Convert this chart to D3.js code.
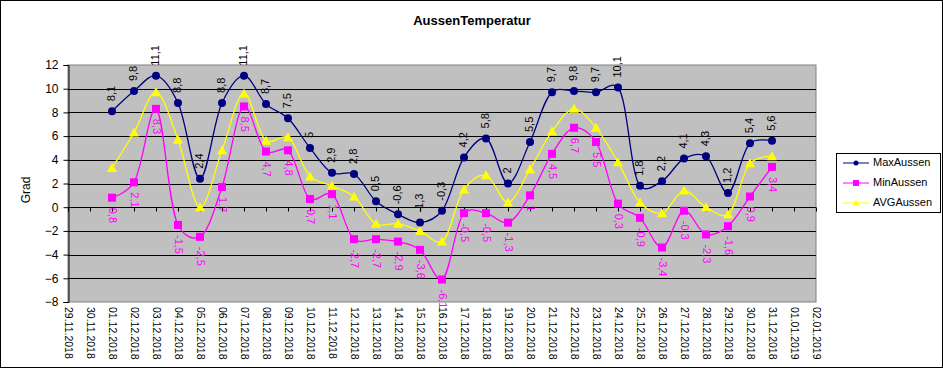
<!DOCTYPE html>
<html><head><meta charset="utf-8">
<script src="https://cdn.jsdelivr.net/npm/d3@7"></script>
<style>body{margin:0;background:#fff}svg{display:block;font-family:"Liberation Sans",Arial,sans-serif}</style>
</head><body><svg id="c" width="943" height="368"></svg>
<script>
const dates = ["29.11.2018","30.11.2018","01.12.2018","02.12.2018","03.12.2018","04.12.2018","05.12.2018","06.12.2018","07.12.2018","08.12.2018","09.12.2018","10.12.2018","11.12.2018","12.12.2018","13.12.2018","14.12.2018","15.12.2018","16.12.2018","17.12.2018","18.12.2018","19.12.2018","20.12.2018","21.12.2018","22.12.2018","23.12.2018","24.12.2018","25.12.2018","26.12.2018","27.12.2018","28.12.2018","29.12.2018","30.12.2018","31.12.2018","01.01.2019","02.01.2019"];
const dataDates = dates.slice(2, 33);
const maxAussen = [8.1,9.8,11.1,8.8,2.4,8.8,11.1,8.7,7.5,5,2.9,2.8,0.5,-0.6,-1.3,-0.3,4.2,5.8,2,5.5,9.7,9.8,9.7,10.1,1.8,2.2,4.1,4.3,1.2,5.4,5.6];
const minAussen = [0.8,2.1,8.3,-1.5,-2.5,1.7,8.5,4.7,4.8,0.7,1.1,-2.7,-2.7,-2.9,-3.6,-6.1,-0.5,-0.5,-1.3,1,4.5,6.7,5.5,0.3,-0.9,-3.4,-0.3,-2.3,-1.6,0.9,3.4];
const avgAussen = [3.3,6.3,9.7,5.7,0,4.8,9.6,5.6,5.9,2.6,1.8,0.9,-1.4,-1.4,-2.0,-2.9,1.5,2.7,0.4,3.2,6.4,8.3,6.7,3.8,0.4,-0.5,1.4,0,-0.6,3.7,4.3];
const yTicks = [-8,-6,-4,-2,0,2,4,6,8,10,12];
const seriesNames = ["MaxAussen","MinAussen","AVGAussen"];
const colors = ["#000080","#FF00FF","#FFFF00"];

const svg = d3.select("#c");
svg.append("rect").attr("x",0.5).attr("y",0.5).attr("width",942).attr("height",367).attr("fill","#fff").attr("stroke","#000");

const L=68, R=816, T=65, B=302;
const x = d3.scalePoint().domain(dates).range([L,R]);
const y = d3.scaleLinear().domain([-8,12]).range([B,T]);

svg.append("rect").attr("x",L).attr("y",T).attr("width",R-L).attr("height",B-T).attr("fill","#c0c0c0").attr("stroke","#808080");

// gridlines
svg.append("g").selectAll("line").data(yTicks.filter(d=>d>-8&&d<12)).join("line")
  .attr("x1",L).attr("x2",R).attr("y1",d=>Math.round(y(d))+0.5).attr("y2",d=>Math.round(y(d))+0.5).attr("stroke","#000");

// y axis
const ya = svg.append("g").attr("transform",`translate(${L+0.5},0)`)
  .call(d3.axisLeft(y).tickValues(yTicks).tickSize(5).tickFormat(d3.format("d")));
ya.select(".domain").attr("stroke","#000");
ya.selectAll("text").attr("font-size",12).attr("font-family","Liberation Sans, Arial").attr("fill","#000").attr("dx",-2);

// x axis ticks at zero
const xa = svg.append("g").attr("transform",`translate(0,${Math.round(y(0))+0.5})`)
  .call(d3.axisBottom(x).tickSize(4).tickFormat(""));
xa.select(".domain").remove();
xa.selectAll("line").attr("stroke","#000");

// x labels at bottom
svg.append("g").selectAll("text").data(dates).join("text")
  .attr("transform",d=>`translate(${x(d)},${B+5}) rotate(90)`)
  .attr("font-size",10.5).attr("dominant-baseline","middle").attr("text-anchor","start").text(d=>d);

// title
svg.append("text").attr("x",472).attr("y",25).attr("text-anchor","middle").attr("font-size",13).attr("font-weight","bold").text("AussenTemperatur");
svg.append("text").attr("transform","translate(30,190) rotate(-90)").attr("text-anchor","middle").attr("font-size",12).text("Grad");

const all = [maxAussen,minAussen,avgAussen];
const line = d3.line().x((d,i)=>x(dataDates[i])).y(d=>y(d)).curve(d3.curveCatmullRom.alpha(0.3));
const fmt = v => String(v).replace(".",",");

function marker(g, k, cx, cy){
  if(k===0) g.append("circle").attr("cx",cx).attr("cy",cy).attr("r",4).attr("fill",colors[0]);
  else if(k===1) g.append("rect").attr("x",cx-4).attr("y",cy-4).attr("width",8).attr("height",8).attr("fill",colors[1]);
  else g.append("path").attr("d",`M${cx},${cy-5}L${cx+5},${cy+4}L${cx-5},${cy+4}Z`).attr("fill",colors[2]);
}

[2,1,0].forEach(k=>{
  const g = svg.append("g");
  g.append("path").attr("d",line(all[k])).attr("fill","none").attr("stroke",colors[k]).attr("stroke-width",1.3);
  all[k].forEach((v,i)=>marker(g,k,x(dataDates[i]),y(v)));
});

// labels
maxAussen.forEach((v,i)=>{
  svg.append("text").attr("transform",`translate(${x(dataDates[i])},${y(v)-10}) rotate(-90)`)
    .attr("font-size",11).attr("dominant-baseline","middle").attr("text-anchor","start").attr("fill","#000").text(fmt(v));
});
minAussen.forEach((v,i)=>{
  svg.append("text").attr("transform",`translate(${x(dataDates[i])},${y(v)+10}) rotate(90)`)
    .attr("font-size",11).attr("dominant-baseline","middle").attr("text-anchor","start").attr("fill","#FF00FF").text(fmt(v));
});

// legend
const lg = svg.append("g");
lg.append("rect").attr("x",836.5).attr("y",153.5).attr("width",104).attr("height",59).attr("fill","#fff").attr("stroke","#000");
seriesNames.forEach((n,k)=>{
  const yy = 163+k*20;
  lg.append("line").attr("x1",843).attr("x2",869).attr("y1",yy).attr("y2",yy).attr("stroke",colors[k]);
  if(k===0) lg.append("circle").attr("cx",856).attr("cy",yy).attr("r",2.5).attr("fill",colors[0]);
  else if(k===1) lg.append("rect").attr("x",853).attr("y",yy-3).attr("width",6).attr("height",6).attr("fill",colors[1]);
  else lg.append("path").attr("d",`M856,${yy-3}L859.5,${yy+2.5}L852.5,${yy+2.5}Z`).attr("fill",colors[2]);
  lg.append("text").attr("x",873).attr("y",yy).attr("dominant-baseline","middle").attr("font-size",11).text(n);
});
</script></body></html>
